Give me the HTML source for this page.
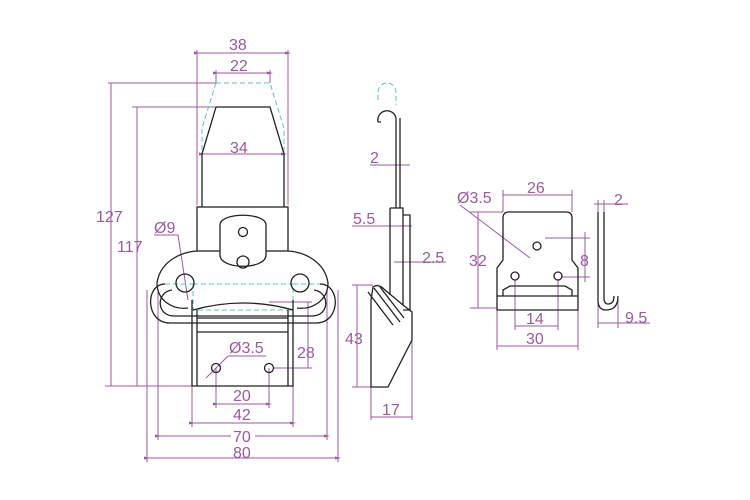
<!DOCTYPE html><html><head><style>body{margin:0;background:#fff}svg{display:block}text{font-family:"Liberation Sans",sans-serif;font-size:16px;fill:#9b5aa0}</style></head><body>
<svg width="750" height="500" viewBox="0 0 750 500">
<defs><marker id="a" markerWidth="6" markerHeight="6" refX="3" refY="3" orient="auto"><path d="M0,1.5L6,3L0,4.5" fill="#9b5aa0"/></marker></defs>
<g stroke="#9b5aa0" stroke-width="1" fill="none">
<path d="M197,50V205M288,50V205"/>
<path d="M197,53H288" marker-start="url(#a)" marker-end="url(#a)"/>
<path d="M216,70V83M270,70V83"/>
<path d="M216,73H270" marker-start="url(#a)" marker-end="url(#a)"/>
<path d="M108,83H216M132,107H216"/>
<path d="M111,83V386M137,107V386" />
<path d="M105,386H290"/>
<path d="M202,154H284" marker-start="url(#a)" marker-end="url(#a)"/>
<path d="M158,290V440M327,290V440M147,290V462M338,290V462M192,386V427M293,386V427M216,368V408M269,368V408"/>
<path d="M216,404H269" marker-start="url(#a)" marker-end="url(#a)"/>
<path d="M192,423H293" marker-start="url(#a)" marker-end="url(#a)"/>
<path d="M158,436H231M255,436H327" marker-start="url(#a)" marker-end="url(#a)"/>
<path d="M147,458H338" marker-start="url(#a)" marker-end="url(#a)"/>
<path d="M269,302H312M274,368H312M308,302V368"/>
<path d="M154,235H178L188,300M206,378L228,356H266"/>
<path d="M370,165H410M352,226H412M394,262H446M357,285V387M352,285H373M352,387H371M371,387V420M412,340V420M371,417H412"/>
<path d="M503,190V212M572,190V212M503,195H572M470,212H503M470,308H497M478,212V308M460,205L530,258M545,238H590M562,277H590M585,232V282M515,280V330M558,280V330M515,326H558M497,300V350M578,300V350M497,346H578M594,204H628M598,200V212M604,200V212M598,300V328M618,300V328M598,323H650"/>
</g>
<g stroke="#5bc4c8" stroke-width="1" fill="none" stroke-dasharray="5,3">
<path d="M216,83H270L284,128V154M216,83L202,128V154"/>
<rect x="193" y="284" width="100" height="26"/>
<path d="M165,284H193M293,284H322"/>
<path d="M378,100V92A9,9 0 0 1 396,92V105"/>
</g>
<g stroke="#222" stroke-width="1.3" fill="none">
<path d="M216,107H270L284,154V207M216,107L202,154V207"/>
<rect x="197" y="207" width="91" height="44"/>
<path d="M197,251C180,252 160,262 157,283C157,300 172,310 188,308M288,251C305,252 325,262 328,283C328,300 313,310 297,308"/>
<path d="M220,250V225C220,212 266,212 266,225V255C266,270 220,270 220,255Z" fill="#fff"/>
<circle cx="243" cy="232" r="4.5"/><circle cx="243" cy="262" r="6"/>
<circle cx="185" cy="283" r="9"/><circle cx="300" cy="283" r="9"/>
<path d="M165,284C145,284 145,323 170,323H316C341,323 341,284 320,284M172,290C156,292 156,316 174,316H312C330,316 330,292 314,290"/>
<path d="M192,300V386H293V300M197,310V386M288,310V386M193,310Q243,296 293,310M197,318H288M197,332H288"/>
<circle cx="216" cy="368" r="4.5"/><circle cx="269" cy="368" r="4.5"/>
<path d="M378,122A9,9 0 0 1 396,118V208M400,118V208M378,122H381"/>
<path d="M390,208H403V305M390,208V295M403,215H410V310H403"/>
<path d="M371,300L373,287Q378,283 385,290L403,305L412,312V340L388,387H371Z"/>
<path d="M368,292L393,325M374,288L400,322M380,287L404,318"/>
<path d="M503,260V218Q503,212 509,212H566Q572,212 572,218V260L578,268V310H497V268Z"/>
<path d="M497,296H578M503,296V290L510,286H565L572,290V296"/>
<circle cx="537" cy="246" r="4"/><circle cx="515" cy="276" r="4"/><circle cx="558" cy="276" r="4"/>
<path d="M598,212V300Q598,310 606,310Q618,310 618,296M604,212V298Q604,304 608,304Q614,304 614,296"/>
</g>
<text x="229" y="50">38</text><text x="230" y="71">22</text><text x="230" y="153">34</text>
<text x="96" y="222">127</text><text x="117" y="252">117</text><text x="154" y="233">Ø9</text>
<text x="229" y="353">Ø3.5</text><text x="297" y="358">28</text>
<text x="233" y="401">20</text><text x="233" y="420">42</text><text x="233" y="442">70</text><text x="233" y="458">80</text>
<text x="370" y="163">2</text><text x="353" y="224">5.5</text><text x="422" y="263">2.5</text>
<text x="345" y="344">43</text><text x="382" y="415">17</text>
<text x="457" y="203">Ø3.5</text><text x="527" y="193">26</text><text x="469" y="266">32</text><text x="580" y="266">8</text>
<text x="526" y="324">14</text><text x="526" y="344">30</text><text x="614" y="205">2</text><text x="625" y="323">9.5</text>
</svg></body></html>
